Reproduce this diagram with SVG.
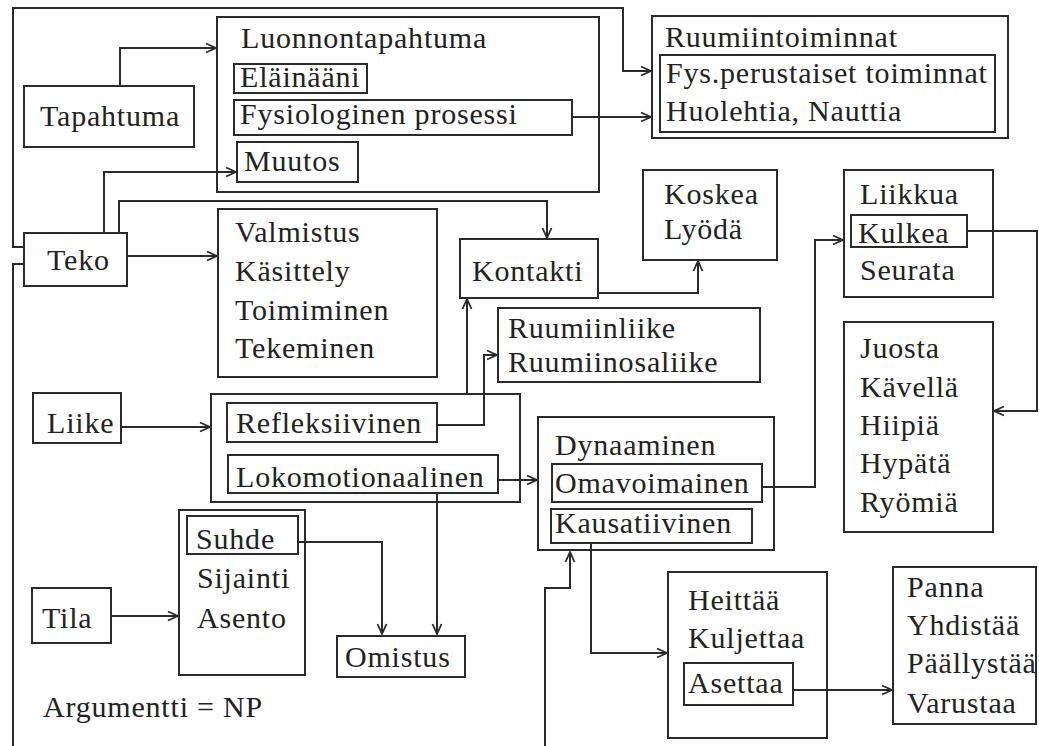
<svg xmlns="http://www.w3.org/2000/svg" width="1039" height="746" viewBox="0 0 1039 746">
<defs>
<style>
rect{fill:none;stroke:#2a2a2a;stroke-width:2}
text{font-family:"Liberation Serif","Times New Roman",serif;font-size:30px;letter-spacing:0.8px;fill:#222}
.c path{fill:none;stroke:#2a2a2a;stroke-width:2}
</style>
<marker id="a" viewBox="0 0 12 12" refX="11" refY="6" markerWidth="12" markerHeight="12" markerUnits="userSpaceOnUse" orient="auto">
<path d="M1,1.5 L11,6 L1,10.5" fill="none" stroke="#2a2a2a" stroke-width="1.8"/>
</marker>
</defs>
<rect x="0" y="0" width="1039" height="746" style="fill:#fff;stroke:none"/>
<g class="c">
<path d="M24,247 H13 V8 H623 V71 H651" marker-end="url(#a)"/>
<path d="M24,264 H13 V746"/>
<path d="M545,746 V588 H570 V552" marker-end="url(#a)"/>
<path d="M120,86 V48 H216" marker-end="url(#a)"/>
<path d="M104,233 V172 H236" marker-end="url(#a)"/>
<path d="M119,233 V201 H547 V238" marker-end="url(#a)"/>
<path d="M127,256 H217" marker-end="url(#a)"/>
<path d="M572,117 H651" marker-end="url(#a)"/>
<path d="M598,293 H698 V261" marker-end="url(#a)"/>
<path d="M467,394 V299" marker-end="url(#a)"/>
<path d="M437,425 H484 V355 H497" marker-end="url(#a)"/>
<path d="M121,427 H210" marker-end="url(#a)"/>
<path d="M498,480 H537" marker-end="url(#a)"/>
<path d="M437,493 V634" marker-end="url(#a)"/>
<path d="M762,487 H815 V240 H843" marker-end="url(#a)"/>
<path d="M967,231 H1037 V411 H994" marker-end="url(#a)"/>
<path d="M591,543 V653 H667" marker-end="url(#a)"/>
<path d="M793,690 H892" marker-end="url(#a)"/>
<path d="M298,542 H382 V634" marker-end="url(#a)"/>
<path d="M111,616 H178" marker-end="url(#a)"/>
</g>
<g id="tapahtuma"><rect x="24" y="86" width="170" height="61"/><text x="40" y="126">Tapahtuma</text></g>
<g id="luonnontapahtuma"><rect x="217" y="17" width="382" height="175"/><text x="241" y="48">Luonnontapahtuma</text>
<rect x="234" y="64" width="133" height="29"/><text x="240" y="87">Eläinääni</text>
<rect x="234" y="100" width="338" height="35"/><text x="240" y="124">Fysiologinen prosessi</text>
<rect x="237" y="142" width="121" height="40"/><text x="244" y="171">Muutos</text></g>
<g id="ruumiintoiminnat"><rect x="652" y="16" width="356" height="122"/><text x="665" y="47">Ruumiintoiminnat</text>
<rect x="660" y="55" width="335" height="77"/><text x="666" y="83">Fys.perustaiset toiminnat</text><text x="666" y="121">Huolehtia, Nauttia</text></g>
<g id="teko"><rect x="24" y="233" width="103" height="53"/><text x="47" y="270">Teko</text></g>
<g id="valmistus"><rect x="218" y="209" width="219" height="168"/><text x="235" y="242">Valmistus</text><text x="235" y="281">Käsittely</text><text x="235" y="320">Toimiminen</text><text x="235" y="358">Tekeminen</text></g>
<g id="kontakti"><rect x="460" y="239" width="138" height="59"/><text x="472" y="281">Kontakti</text></g>
<g id="koskea"><rect x="643" y="170" width="134" height="90"/><text x="664" y="204">Koskea</text><text x="664" y="239">Lyödä</text></g>
<g id="liikkua"><rect x="844" y="170" width="149" height="127"/><text x="860" y="204">Liikkua</text>
<rect x="851" y="215" width="116" height="32"/><text x="858" y="243">Kulkea</text><text x="860" y="280">Seurata</text></g>
<g id="juosta"><rect x="844" y="322" width="149" height="210"/><text x="860" y="358">Juosta</text><text x="860" y="397">Kävellä</text><text x="860" y="435">Hiipiä</text><text x="860" y="473">Hypätä</text><text x="860" y="512">Ryömiä</text></g>
<g id="ruumiinliike"><rect x="498" y="308" width="262" height="74"/><text x="508" y="338">Ruumiinliike</text><text x="508" y="372">Ruumiinosaliike</text></g>
<g id="liike"><rect x="33" y="393" width="88" height="50"/><text x="47" y="433">Liike</text></g>
<g id="liiketyypit"><rect x="211" y="394" width="309" height="108"/>
<rect x="227" y="403" width="210" height="39"/><text x="236" y="433">Refleksiivinen</text>
<rect x="228" y="455" width="270" height="38"/><text x="236" y="487">Lokomotionaalinen</text></g>
<g id="dynaaminen"><rect x="538" y="417" width="236" height="133"/><text x="555" y="455">Dynaaminen</text>
<rect x="552" y="464" width="210" height="38"/><text x="555" y="493">Omavoimainen</text>
<rect x="551" y="509" width="201" height="34"/><text x="555" y="533">Kausatiivinen</text></g>
<g id="heittaa"><rect x="668" y="572" width="159" height="166"/><text x="688" y="610">Heittää</text><text x="688" y="648">Kuljettaa</text>
<rect x="684" y="663" width="109" height="42"/><text x="688" y="693">Asettaa</text></g>
<g id="panna"><rect x="893" y="567" width="143" height="157"/><text x="907" y="597">Panna</text><text x="907" y="635">Yhdistää</text><text x="907" y="673">Päällystää</text><text x="907" y="713">Varustaa</text></g>
<g id="suhde"><rect x="179" y="510" width="126" height="165"/>
<rect x="187" y="516" width="111" height="38"/><text x="196" y="549">Suhde</text><text x="197" y="588">Sijainti</text><text x="197" y="628">Asento</text></g>
<g id="omistus"><rect x="337" y="636" width="128" height="41"/><text x="345" y="667">Omistus</text></g>
<g id="tila"><rect x="32" y="588" width="79" height="55"/><text x="42" y="628">Tila</text></g>
<text x="43" y="717">Argumentti = NP</text>
</svg>
